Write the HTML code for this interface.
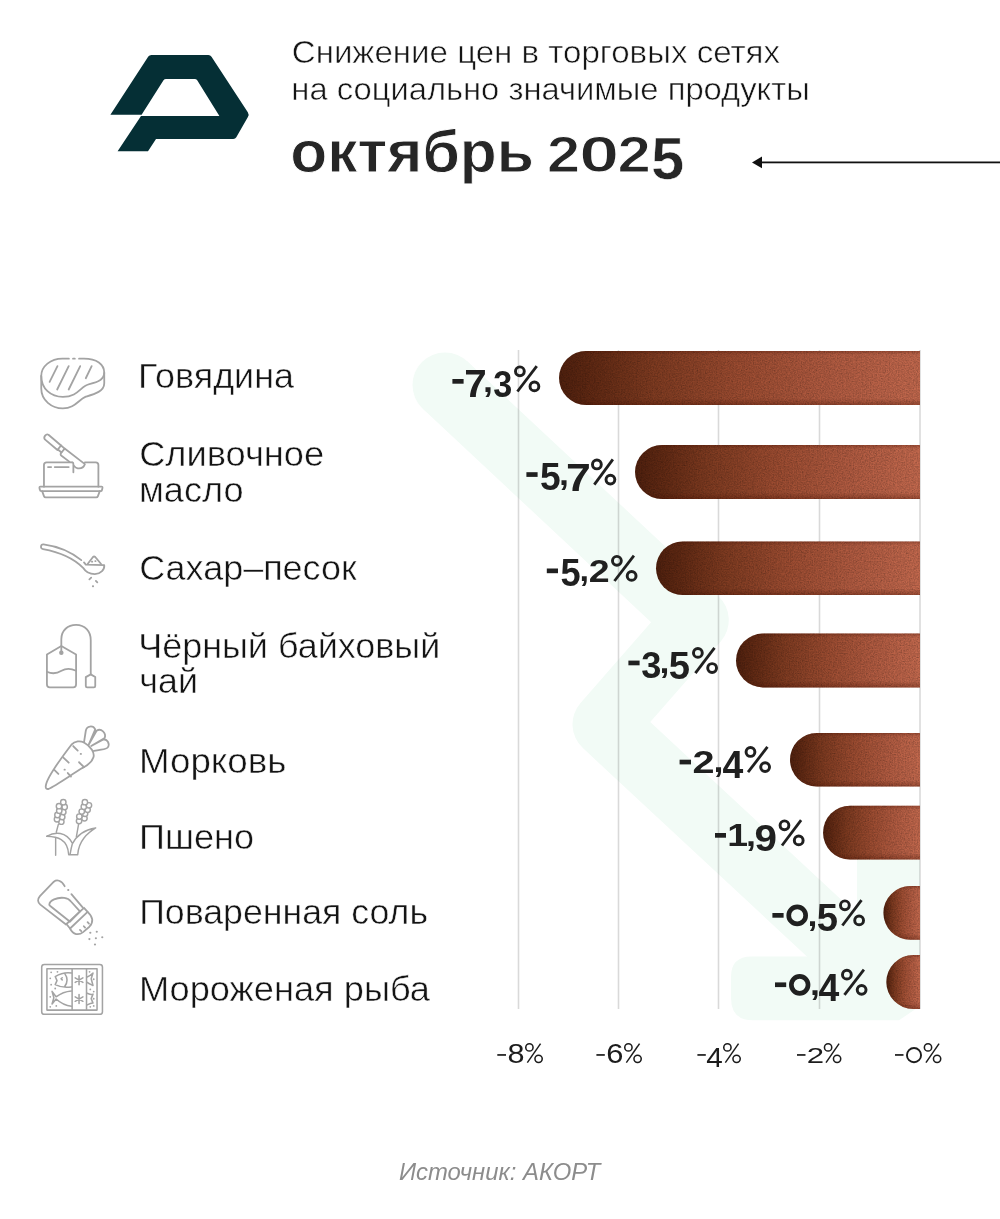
<!DOCTYPE html>
<html lang="ru"><head><meta charset="utf-8"><title>Снижение цен</title>
<style>
html,body{margin:0;padding:0;background:#fff}
body{width:1000px;height:1219px;position:relative;overflow:hidden;font-family:"Liberation Sans",sans-serif}
.t{position:absolute;white-space:nowrap;transform-origin:0 0;line-height:1;margin:0;padding:0}
</style></head><body>
<svg width="1000" height="1219" viewBox="0 0 1000 1219" style="position:absolute;left:0;top:0">
<defs>
<linearGradient id="bg" x1="0" y1="0" x2="1" y2="0"><stop offset="0" stop-color="#4f200e"/><stop offset="0.1" stop-color="#622a14"/><stop offset="0.25" stop-color="#7d3a20"/><stop offset="0.5" stop-color="#9c4c31"/><stop offset="0.75" stop-color="#b15b41"/><stop offset="1" stop-color="#c3694e"/></linearGradient>
<linearGradient id="vg" x1="0" y1="0" x2="0" y2="1"><stop offset="0" stop-color="#4a1000" stop-opacity="0.3"/><stop offset="0.07" stop-color="#4a1000" stop-opacity="0"/><stop offset="0.88" stop-color="#4a1000" stop-opacity="0"/><stop offset="1" stop-color="#4a1000" stop-opacity="0.35"/></linearGradient>
<filter id="grain" x="0" y="0" width="100%" height="100%"><feTurbulence type="fractalNoise" baseFrequency="0.75" numOctaves="2" seed="3" result="n"/><feColorMatrix in="n" type="matrix" values="0 0 0 0 0  0 0 0 0 0  0 0 0 0 0  0.9 0.9 0.9 0 -1.05" result="a"/><feComposite in="a" in2="SourceGraphic" operator="in"/></filter>
</defs>
<g fill="none" stroke="#f2fbf6" stroke-width="65" stroke-linecap="butt" stroke-linejoin="round"><path d="M445 385 L696.3 620 L605 724.3 L888.5 988"/></g>
<circle cx="445" cy="385" r="32.5" fill="#f2fbf6"/>
<path d="M731 977 Q731 956.5 751.5 956.5 L857 956.5 L857 842 Q857 820 879 820 L898 820 Q920 820 920 842 L920 1006 L899 1020.3 L753 1020.3 Q731 1020.3 731 998 Z" fill="#f2fbf6"/>
<rect x="517.7" y="350" width="1.6" height="659" fill="#000" fill-opacity="0.15"/>
<rect x="617.7" y="350" width="1.6" height="659" fill="#000" fill-opacity="0.15"/>
<rect x="717.7" y="350" width="1.6" height="659" fill="#000" fill-opacity="0.15"/>
<rect x="818.7" y="350" width="1.6" height="659" fill="#000" fill-opacity="0.15"/>
<rect x="919.2" y="350" width="1.6" height="659" fill="#000" fill-opacity="0.15"/>
<path d="M920 351 L586.0 351 A27.0 27.0 0 0 0 586.0 405 L920 405 Z" fill="url(#bg)"/><path d="M920 351 L586.0 351 A27.0 27.0 0 0 0 586.0 405 L920 405 Z" fill="url(#vg)"/><path d="M920 351 L586.0 351 A27.0 27.0 0 0 0 586.0 405 L920 405 Z" fill="#000" filter="url(#grain)" opacity="0.28"/>
<path d="M920 445 L662.0 445 A27.0 27.0 0 0 0 662.0 499 L920 499 Z" fill="url(#bg)"/><path d="M920 445 L662.0 445 A27.0 27.0 0 0 0 662.0 499 L920 499 Z" fill="url(#vg)"/><path d="M920 445 L662.0 445 A27.0 27.0 0 0 0 662.0 499 L920 499 Z" fill="#000" filter="url(#grain)" opacity="0.28"/>
<path d="M920 541.4 L682.8 541.4 A26.8 26.8 0 0 0 682.8 595 L920 595 Z" fill="url(#bg)"/><path d="M920 541.4 L682.8 541.4 A26.8 26.8 0 0 0 682.8 595 L920 595 Z" fill="url(#vg)"/><path d="M920 541.4 L682.8 541.4 A26.8 26.8 0 0 0 682.8 595 L920 595 Z" fill="#000" filter="url(#grain)" opacity="0.28"/>
<path d="M920 633.6 L762.9 633.6 A26.9 26.9 0 0 0 762.9 687.4 L920 687.4 Z" fill="url(#bg)"/><path d="M920 633.6 L762.9 633.6 A26.9 26.9 0 0 0 762.9 687.4 L920 687.4 Z" fill="url(#vg)"/><path d="M920 633.6 L762.9 633.6 A26.9 26.9 0 0 0 762.9 687.4 L920 687.4 Z" fill="#000" filter="url(#grain)" opacity="0.28"/>
<path d="M920 733 L816.8 733 A26.8 26.8 0 0 0 816.8 786.6 L920 786.6 Z" fill="url(#bg)"/><path d="M920 733 L816.8 733 A26.8 26.8 0 0 0 816.8 786.6 L920 786.6 Z" fill="url(#vg)"/><path d="M920 733 L816.8 733 A26.8 26.8 0 0 0 816.8 786.6 L920 786.6 Z" fill="#000" filter="url(#grain)" opacity="0.28"/>
<path d="M920 805.7 L850.0 805.7 A26.9 26.9 0 0 0 850.0 859.6 L920 859.6 Z" fill="url(#bg)"/><path d="M920 805.7 L850.0 805.7 A26.9 26.9 0 0 0 850.0 859.6 L920 859.6 Z" fill="url(#vg)"/><path d="M920 805.7 L850.0 805.7 A26.9 26.9 0 0 0 850.0 859.6 L920 859.6 Z" fill="#000" filter="url(#grain)" opacity="0.28"/>
<path d="M920 886 L910.3 886 A26.9 26.9 0 0 0 910.3 939.8 L920 939.8 Z" fill="url(#bg)"/><path d="M920 886 L910.3 886 A26.9 26.9 0 0 0 910.3 939.8 L920 939.8 Z" fill="url(#vg)"/><path d="M920 886 L910.3 886 A26.9 26.9 0 0 0 910.3 939.8 L920 939.8 Z" fill="#000" filter="url(#grain)" opacity="0.28"/>
<path d="M920 955 L913.3 955 A27.0 27.0 0 0 0 913.3 1009 L920 1009 Z" fill="url(#bg)"/><path d="M920 955 L913.3 955 A27.0 27.0 0 0 0 913.3 1009 L920 1009 Z" fill="url(#vg)"/><path d="M920 955 L913.3 955 A27.0 27.0 0 0 0 913.3 1009 L920 1009 Z" fill="#000" filter="url(#grain)" opacity="0.28"/>
<rect x="758" y="161.5" width="242" height="1.8" fill="#111"/><path d="M752 162.4 L762 156.6 L762 168.2 Z" fill="#111"/>
<path d="M110.4 114.7 L148.3 56.6 Q149.4 55 151.4 55 L208.4 55 Q210.4 55 211.5 56.7 L247.8 112.2 Q249.4 114.6 247.9 117.1 L236.3 137.2 Q235.3 138.9 233.3 138.9 L156 138.9 L148 151.2 L117.6 151.2 L141.0 116.1 L219.4 116.1 L197.2 80.3 Q196.3 78.9 194.7 78.9 L166 78.9 Q164.4 78.9 163.5 80.2 L141.6 114.7 Z" fill="#052f35"/>
</svg>
<svg width="1000" height="1219" viewBox="0 0 1000 1219" style="position:absolute;left:0;top:0" fill="none" stroke="#a3a3a3" stroke-width="20" stroke-linecap="round" stroke-linejoin="round">
<!-- steak -->
<svg x="30" y="340" width="90" height="80" viewBox="0 0 1000 889">
<path d="M545 208 L600 208 C740 208 825 270 825 365 C825 440 740 475 660 490 C560 510 540 632 365 632 C230 632 125 540 125 400 C125 290 230 208 360 208 L432 208 M478 208 L498 208"/>
<path d="M125 400 L125 540 C125 670 240 760 365 760 C500 760 530 670 620 630 C720 600 825 570 825 480 L825 365"/>
<path d="M305 290 L218 465 M430 290 L302 550 M558 290 L430 550 M685 290 L620 425"/>
</svg>
<!-- butter -->
<svg x="30" y="425" width="90" height="80" viewBox="0 0 1000 889">
<path d="M468 415 L185 415 Q155 415 155 445 L155 685 M610 415 L730 415 Q760 415 760 445 L760 685"/>
<path d="M115 685 L795 685 Q808 685 805 700 L800 722 Q797 735 785 735 L125 735 Q112 735 110 722 L105 700 Q103 685 115 685 Z"/>
<path d="M135 735 L155 790 Q160 805 175 805 L735 805 Q750 805 755 790 L775 735"/>
<path d="M200 468 L235 468 M275 468 L430 468 M468 415 Q482 415 482 432 L482 525"/>
<path d="M205 108 L345 228 L305 278 L165 160 Q150 140 168 118 Q185 98 205 108 Z"/>
<path d="M345 228 L385 262 L350 305 L310 272"/>
<path d="M385 262 L610 435 Q590 490 530 482 Q500 475 490 455 M350 305 Q330 325 350 342 L440 410"/>
</svg>
<!-- spoon -->
<svg x="30" y="530" width="90" height="80" viewBox="0 0 1000 889">
<path d="M570 335 C450 240 300 180 150 160 C115 158 112 210 145 212 C300 240 480 310 590 420 C620 470 680 490 720 490 C790 485 830 440 825 390 L620 385 L600 360"/>
<path d="M640 378 L700 300 Q712 288 725 300 L790 378"/>
<path d="M660 548 L680 530 M732 565 L748 582 M698 625 L702 625 M688 352 L692 352 M725 345 L729 345"/>
</svg>
<!-- tea bag -->
<svg x="30" y="615" width="90" height="80" viewBox="0 0 1000 889">
<path d="M188 440 L348 345 L512 440 L512 770 Q512 805 480 805 L220 805 Q188 805 188 770 Z"/>
<path d="M188 630 C250 660 300 650 350 620 C400 590 450 590 512 620"/>
<circle cx="348" cy="420" r="25" fill="#a3a3a3" stroke="none"/>
<path d="M348 420 L348 270 C348 170 420 110 512 110 C610 110 675 180 675 280 L675 660"/>
<path d="M675 660 L725 690 L725 790 Q725 805 710 805 L635 805 Q620 805 620 790 L620 690 Z"/>
</svg>
<!-- carrot -->
<svg x="30" y="715" width="90" height="80" viewBox="0 0 1000 889">
<path d="M175 790 C180 700 330 500 460 330 C500 285 560 285 600 305 C680 350 720 420 705 470 C690 520 640 560 580 590 C450 670 280 790 210 820 C185 828 172 815 175 790 Z"/>
<path d="M600 305 L620 175 C630 120 700 110 725 160 L650 335 L740 175 C790 140 850 200 830 255 L680 345 L810 275 C860 260 890 320 865 360 C850 385 800 380 710 400"/>
<path d="M480 345 L530 395 M368 470 L430 530 M545 525 L600 580 M270 610 L315 655 M420 645 L455 685 M563 432 L567 432 M383 608 L387 608"/>
</svg>
<!-- millet -->
<svg x="30" y="790" width="90" height="80" viewBox="0 0 1000 889" stroke-width="16">
<g fill="#fff">
<circle cx="348" cy="352" r="30"/><circle cx="300" cy="325" r="30"/><circle cx="358" cy="300" r="30"/><circle cx="305" cy="278" r="30"/><circle cx="370" cy="245" r="30"/><circle cx="325" cy="230" r="30"/><circle cx="385" cy="188" r="30"/><circle cx="322" cy="180" r="30"/><circle cx="370" cy="135" r="30"/>
<circle cx="545" cy="345" r="30"/><circle cx="605" cy="315" r="30"/><circle cx="548" cy="295" r="30"/><circle cx="612" cy="265" r="30"/><circle cx="575" cy="240" r="30"/><circle cx="640" cy="220" r="30"/><circle cx="598" cy="185" r="30"/><circle cx="655" cy="170" r="30"/><circle cx="610" cy="135" r="30"/>
</g>
<path d="M315 382 L292 470 M285 530 L285 725 M540 378 L515 520"/>
<path d="M185 515 C280 460 400 460 470 590 M185 515 C300 520 420 540 430 720 L530 720 C540 560 640 480 730 422 C620 440 520 500 470 600 C455 650 450 690 445 720"/>
</svg>
<!-- salt -->
<svg x="30" y="870" width="90" height="80" viewBox="0 0 1000 889">
<path d="M385 180 C350 110 295 105 265 130 L110 290 C80 325 85 360 115 385 L400 605 M460 268 L585 415 M423 222 L427 222"/>
<path d="M215 385 C215 340 300 300 380 310 C420 315 440 330 455 350 L555 460 L445 575 L225 400 Q212 392 215 385 Z"/>
<path d="M405 600 L600 420 L640 465 L445 650 Z"/>
<path d="M640 465 C700 520 710 580 660 630 L590 690 C540 730 480 720 445 650"/>
<path d="M555 665 L570 680 M598 625 L612 640 M640 580 L655 595"/>
<g fill="#a3a3a3" stroke="none"><circle cx="670" cy="697" r="12"/><circle cx="742" cy="686" r="12"/><circle cx="660" cy="768" r="12"/><circle cx="732" cy="758" r="12"/><circle cx="803" cy="747" r="12"/><circle cx="722" cy="828" r="12"/></g>
</svg>
<!-- frozen fish -->
<svg x="30" y="950" width="90" height="80" viewBox="0 0 1000 889" stroke-width="17">
<rect x="130" y="160" width="675" height="555" rx="30"/>
<rect x="188" y="208" width="557" height="460"/>
<path d="M468 208 L468 668 M628 208 L628 668"/>
<path d="M545 285 L545 385 M502 310 L588 360 M502 360 L588 310 M545 495 L545 595 M502 520 L588 570 M502 570 L588 520"/>
<path d="M460 255 C400 245 330 265 280 295 L300 340 L280 385 C330 410 400 420 460 410 M385 260 C420 310 420 360 385 405 M358 308 L345 320 L358 332"/>
<path d="M460 455 C400 460 330 490 290 520 L245 460 L265 530 L245 600 L290 545 C340 590 400 620 460 625"/>
<path d="M635 300 C660 290 680 275 700 255 L680 320 L700 395 C680 385 655 375 635 360 M635 480 C660 490 680 500 700 490 L680 540 L700 590 C680 590 655 600 635 610"/>
<g fill="#a3a3a3" stroke="none"><circle cx="235" cy="248" r="10"/><circle cx="305" cy="242" r="10"/><circle cx="225" cy="315" r="10"/><circle cx="235" cy="385" r="10"/><circle cx="280" cy="428" r="10"/><circle cx="225" cy="520" r="10"/><circle cx="292" cy="622" r="10"/><circle cx="225" cy="632" r="10"/><circle cx="662" cy="243" r="10"/><circle cx="708" cy="325" r="10"/><circle cx="670" cy="438" r="10"/><circle cx="708" cy="462" r="10"/><circle cx="708" cy="542" r="10"/><circle cx="708" cy="622" r="10"/><circle cx="670" cy="632" r="10"/></g>
</svg>
</svg>

<svg width="1000" height="1219" viewBox="0 0 1000 1219" style="position:absolute;left:0;top:0;will-change:transform" font-family="Liberation Sans, sans-serif">
<text transform="translate(291.75 62.60) scale(1.0634 1)" font-size="31.10" font-weight="400" font-style="normal" fill="#141414" stroke="#fff" stroke-width="0.55">Снижение цен в торговых сетях</text>
<text transform="translate(291.31 100.00) scale(1.0675 1)" font-size="30.68" font-weight="400" font-style="normal" fill="#141414" stroke="#fff" stroke-width="0.55">на социально значимые продукты</text>
<text transform="translate(290.18 171.70) scale(1.0114 1)" font-size="59.85" font-weight="700" font-style="normal" fill="#262626" stroke="#fff" stroke-width="0.9">октябрь</text>
<text transform="translate(546.91 171.50) scale(1.2046 1)" font-size="49.46" font-weight="700" fill="#262626" stroke="#fff" stroke-width="1.0">2</text>
<text transform="translate(579.14 171.50) scale(1.4185 1)" font-size="50.46" font-weight="700" fill="#262626" stroke="#fff" stroke-width="1.0">0</text>
<text transform="translate(617.50 171.50) scale(1.2130 1)" font-size="49.46" font-weight="700" fill="#262626" stroke="#fff" stroke-width="1.0">2</text>
<text transform="translate(651.23 179.41) scale(0.9956 1)" font-size="59.35" font-weight="700" fill="#262626" stroke="#fff" stroke-width="0.5">5</text>
<text transform="translate(138.04 387.60) scale(1.0086 1)" font-size="35.61" font-weight="400" font-style="normal" fill="#141414" stroke="#fff" stroke-width="0.5">Говядина</text>
<text transform="translate(139.19 465.80) scale(1.0173 1)" font-size="35.61" font-weight="400" font-style="normal" fill="#141414" stroke="#fff" stroke-width="0.5">Сливочное</text>
<text transform="translate(138.97 501.50) scale(1.0143 1)" font-size="35.61" font-weight="400" font-style="normal" fill="#141414" stroke="#fff" stroke-width="0.5">масло</text>
<text transform="translate(139.20 580.00) scale(1.0101 1)" font-size="35.61" font-weight="400" font-style="normal" fill="#141414" stroke="#fff" stroke-width="0.5">Сахар–песок</text>
<text transform="translate(138.21 658.20) scale(1.0100 1)" font-size="35.61" font-weight="400" font-style="normal" fill="#141414" stroke="#fff" stroke-width="0.5">Чёрный байховый</text>
<text transform="translate(139.35 693.20) scale(1.0059 1)" font-size="35.61" font-weight="400" font-style="normal" fill="#141414" stroke="#fff" stroke-width="0.5">чай</text>
<text transform="translate(138.97 772.70) scale(1.0323 1)" font-size="35.61" font-weight="400" font-style="normal" fill="#141414" stroke="#fff" stroke-width="0.5">Морковь</text>
<text transform="translate(139.11 849.00) scale(1.0133 1)" font-size="35.61" font-weight="400" font-style="normal" fill="#141414" stroke="#fff" stroke-width="0.5">Пшено</text>
<text transform="translate(139.14 924.40) scale(1.0028 1)" font-size="35.61" font-weight="400" font-style="normal" fill="#141414" stroke="#fff" stroke-width="0.5">Поваренная соль</text>
<text transform="translate(139.01 1001.00) scale(1.0170 1)" font-size="35.61" font-weight="400" font-style="normal" fill="#141414" stroke="#fff" stroke-width="0.5">Мороженая рыба</text>
<rect x="452.40" y="379.00" width="11.20" height="4.70" fill="#202020"/>
<text transform="translate(464.28 397.30) scale(1.0409 1)" font-size="38.84" font-weight="700" fill="#202020" >7</text>
<text transform="translate(483.00 391.62) scale(1.1115 1)" font-size="32.13" font-weight="700" fill="#202020" >,</text>
<text transform="translate(493.23 396.83) scale(0.9087 1)" font-size="37.61" font-weight="700" fill="#202020" >3</text>
<g fill="none" stroke="#202020" stroke-width="2.95"><circle cx="519.88" cy="371.28" r="4.40"/><circle cx="534.42" cy="386.42" r="4.40"/><path d="M517.42 391.49 L536.75 366.21" stroke-width="2.80"/></g>
<rect x="526.40" y="472.20" width="11.20" height="4.70" fill="#202020"/>
<text transform="translate(539.88 490.12) scale(0.9714 1)" font-size="38.28" font-weight="700" fill="#202020" >5</text>
<text transform="translate(559.00 484.82) scale(1.1115 1)" font-size="32.13" font-weight="700" fill="#202020" >,</text>
<text transform="translate(566.10 490.50) scale(1.1505 1)" font-size="38.84" font-weight="700" fill="#202020" >7</text>
<g fill="none" stroke="#202020" stroke-width="2.95"><circle cx="596.88" cy="464.48" r="4.40"/><circle cx="610.42" cy="479.62" r="4.40"/><path d="M594.29 484.69 L612.88 459.41" stroke-width="2.80"/></g>
<rect x="546.80" y="568.50" width="11.20" height="4.70" fill="#202020"/>
<text transform="translate(560.41 586.42) scale(0.9452 1)" font-size="38.28" font-weight="700" fill="#202020" >5</text>
<text transform="translate(579.40 581.12) scale(1.0671 1)" font-size="32.13" font-weight="700" fill="#202020" >,</text>
<text transform="translate(588.69 581.50) scale(1.2280 1)" font-size="30.54" font-weight="700" fill="#202020" >2</text>
<g fill="none" stroke="#202020" stroke-width="2.95"><circle cx="616.88" cy="560.78" r="4.40"/><circle cx="631.62" cy="575.92" r="4.40"/><path d="M614.45 580.99 L633.92 555.71" stroke-width="2.80"/></g>
<rect x="628.40" y="660.60" width="11.20" height="4.70" fill="#202020"/>
<text transform="translate(641.19 678.43) scale(0.9621 1)" font-size="37.61" font-weight="700" fill="#202020" >3</text>
<text transform="translate(659.50 673.22) scale(1.1115 1)" font-size="32.13" font-weight="700" fill="#202020" >,</text>
<text transform="translate(668.85 678.52) scale(0.9977 1)" font-size="38.28" font-weight="700" fill="#202020" >5</text>
<g fill="none" stroke="#202020" stroke-width="2.95"><circle cx="697.88" cy="652.88" r="4.40"/><circle cx="712.12" cy="668.02" r="4.40"/><path d="M695.38 673.09 L714.49 647.81" stroke-width="2.80"/></g>
<rect x="679.60" y="759.70" width="11.40" height="4.70" fill="#202020"/>
<text transform="translate(692.61 772.70) scale(1.2962 1)" font-size="30.54" font-weight="700" fill="#202020" >2</text>
<text transform="translate(713.50 772.32) scale(1.1115 1)" font-size="32.13" font-weight="700" fill="#202020" >,</text>
<text transform="translate(722.44 778.00) scale(0.9626 1)" font-size="38.84" font-weight="700" fill="#202020" >4</text>
<g fill="none" stroke="#202020" stroke-width="2.95"><circle cx="750.48" cy="751.98" r="4.40"/><circle cx="765.12" cy="767.12" r="4.40"/><path d="M748.03 772.19 L767.44 746.91" stroke-width="2.80"/></g>
<rect x="715.00" y="833.00" width="11.00" height="4.70" fill="#202020"/>
<text transform="translate(727.26 846.00) scale(1.2078 1)" font-size="30.98" font-weight="700" fill="#202020" >1</text>
<text transform="translate(745.90 845.62) scale(1.1115 1)" font-size="32.13" font-weight="700" fill="#202020" >,</text>
<text transform="translate(754.59 850.92) scale(1.0709 1)" font-size="37.74" font-weight="700" fill="#202020" >9</text>
<g fill="none" stroke="#202020" stroke-width="2.95"><circle cx="784.48" cy="825.28" r="4.40"/><circle cx="798.72" cy="840.42" r="4.40"/><path d="M781.98 845.49 L801.09 820.21" stroke-width="2.80"/></g>
<rect x="772.40" y="913.00" width="11.20" height="4.70" fill="#202020"/>
<ellipse cx="797.20" cy="915.45" rx="8.45" ry="8.50" fill="none" stroke="#202020" stroke-width="4.7"/>
<text transform="translate(807.50 925.62) scale(1.1115 1)" font-size="32.13" font-weight="700" fill="#202020" >,</text>
<text transform="translate(816.85 930.92) scale(0.9977 1)" font-size="38.28" font-weight="700" fill="#202020" >5</text>
<g fill="none" stroke="#202020" stroke-width="2.95"><circle cx="844.88" cy="905.28" r="4.40"/><circle cx="859.12" cy="920.42" r="4.40"/><path d="M842.38 925.49 L861.49 900.21" stroke-width="2.80"/></g>
<rect x="775.00" y="982.40" width="11.20" height="4.70" fill="#202020"/>
<ellipse cx="799.70" cy="984.85" rx="8.35" ry="8.50" fill="none" stroke="#202020" stroke-width="4.7"/>
<text transform="translate(809.90 995.02) scale(1.1115 1)" font-size="32.13" font-weight="700" fill="#202020" >,</text>
<text transform="translate(818.44 1000.70) scale(0.9626 1)" font-size="38.84" font-weight="700" fill="#202020" >4</text>
<g fill="none" stroke="#202020" stroke-width="2.95"><circle cx="846.88" cy="974.68" r="4.40"/><circle cx="861.62" cy="989.82" r="4.40"/><path d="M844.45 994.89 L863.92 969.61" stroke-width="2.80"/></g>
<rect x="497.30" y="1054.10" width="8.70" height="1.70" fill="#1c1c1c"/>
<text transform="translate(507.50 1062.91) scale(1.0731 1)" font-size="28.55" font-weight="400" fill="#1c1c1c" >8</text>
<g fill="none" stroke="#1c1c1c" stroke-width="1.55"><circle cx="529.41" cy="1047.41" r="3.64"/><circle cx="538.59" cy="1058.79" r="3.64"/><path d="M527.34 1062.59 L540.57 1043.61" stroke-width="1.47"/></g>
<rect x="596.40" y="1054.10" width="8.40" height="1.70" fill="#1c1c1c"/>
<text transform="translate(606.15 1062.91) scale(1.0829 1)" font-size="28.55" font-weight="400" fill="#1c1c1c" >6</text>
<g fill="none" stroke="#1c1c1c" stroke-width="1.55"><circle cx="628.41" cy="1047.41" r="3.64"/><circle cx="637.59" cy="1058.79" r="3.64"/><path d="M626.34 1062.59 L639.57 1043.61" stroke-width="1.47"/></g>
<rect x="697.40" y="1054.10" width="8.40" height="1.70" fill="#1c1c1c"/>
<text transform="translate(706.33 1067.00) scale(1.0526 1)" font-size="28.22" font-weight="400" fill="#1c1c1c" >4</text>
<g fill="none" stroke="#1c1c1c" stroke-width="1.55"><circle cx="727.41" cy="1047.41" r="3.64"/><circle cx="736.59" cy="1058.79" r="3.64"/><path d="M725.34 1062.59 L738.57 1043.61" stroke-width="1.47"/></g>
<rect x="797.00" y="1054.10" width="8.50" height="1.70" fill="#1c1c1c"/>
<text transform="translate(806.84 1063.00) scale(1.3777 1)" font-size="22.65" font-weight="400" fill="#1c1c1c" >2</text>
<g fill="none" stroke="#1c1c1c" stroke-width="1.55"><circle cx="828.11" cy="1047.41" r="3.64"/><circle cx="837.09" cy="1058.79" r="3.64"/><path d="M826.01 1062.59 L839.10 1043.61" stroke-width="1.47"/></g>
<rect x="895.00" y="1054.10" width="8.50" height="1.70" fill="#1c1c1c"/>
<ellipse cx="914.00" cy="1055.15" rx="7.05" ry="7.10" fill="none" stroke="#1c1c1c" stroke-width="1.9"/>
<g fill="none" stroke="#1c1c1c" stroke-width="1.55"><circle cx="928.01" cy="1047.41" r="3.64"/><circle cx="937.09" cy="1058.79" r="3.64"/><path d="M925.93 1062.59 L939.08 1043.61" stroke-width="1.47"/></g>
<text transform="translate(398.98 1179.60) scale(0.9775 1)" font-size="24.42" font-weight="400" font-style="italic" fill="#8c8c8c" >Источник: АКОРТ</text>
</svg>
</body></html>
